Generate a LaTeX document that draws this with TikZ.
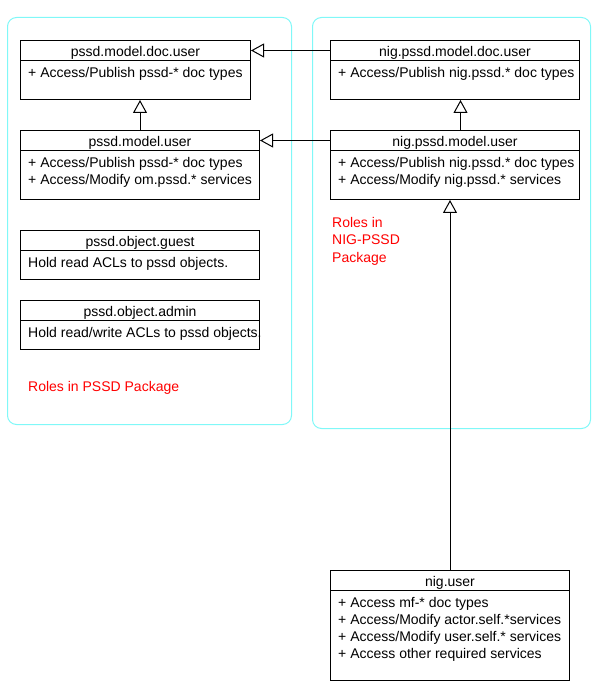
\documentclass[tikz,border=0pt]{standalone}
\usepackage{fontspec}
\setmainfont{Liberation Sans}
\usepackage{xcolor}
\usetikzlibrary{positioning, arrows.meta, calc}

\definecolor{pkgcyan}{HTML}{80F8F8}
\definecolor{pkgred}{HTML}{FF0000}

\tikzset{
  classframe/.style={rectangle, draw=black, line width=1pt, anchor=north west, inner sep=0pt},
  classname/.style={rectangle, draw=black, line width=1pt, anchor=north west, inner sep=0pt,
                    minimum height=20, text height=12, text depth=0,
                    font=\fontsize{14}{17}\selectfont},
  classbody/.style={anchor=north west, inner sep=0pt, align=left,
                    font=\fontsize{14}{17}\selectfont},
  pkgframe/.style={rectangle, draw=pkgcyan, line width=1pt, rounded corners=9pt,
                   anchor=north west, inner sep=0pt},
  pkglabel/.style={anchor=north west, inner sep=0pt, align=left, text=pkgred,
                   font=\fontsize{14}{17.5}\selectfont},
  inherit/.style={-{Triangle[open, length=13pt, width=14pt]}, line width=1pt, fill=white}
}

\begin{document}
\begin{tikzpicture}[x=1pt, y=-1pt]
\useasboundingbox (0,0) rectangle (600,700);

% Packages
\node[pkgframe, minimum width=284, minimum height=407] (pssdpkg) at (7,17) {};
\node[pkgframe, minimum width=278, minimum height=411] (nigpkg) at (312,17) {};

% Package labels
\node[pkglabel] (pssdlabel) at (28,381) {Roles in PSSD Package};
\node[pkglabel] (niglabel) at (332,217) {Roles in\\NIG-PSSD\\Package};

% pssd.model.doc.user
\node[classframe, minimum width=230, minimum height=59] (docuser) at (20,40) {};
\node[classname, minimum width=230] (docuser-name) at (20,40) {pssd.model.doc.user};
\node[classbody] (docuser-body) at (28,67) {+ Access/Publish pssd-* doc types};

% pssd.model.user
\node[classframe, minimum width=239, minimum height=69] (user) at (20,130) {};
\node[classname, minimum width=239] (user-name) at (20,130) {pssd.model.user};
\node[classbody] (user-body) at (28,157) {+ Access/Publish pssd-* doc types\\+ Access/Modify om.pssd.* services};

% pssd.object.guest
\node[classframe, minimum width=239, minimum height=49] (guest) at (20,230) {};
\node[classname, minimum width=239] (guest-name) at (20,230) {pssd.object.guest};
\node[classbody] (guest-body) at (28,257) {Hold read ACLs to pssd objects.};

% pssd.object.admin
\node[classframe, minimum width=239, minimum height=49] (admin) at (20,300) {};
\node[classname, minimum width=239] (admin-name) at (20,300) {pssd.object.admin};
\node[classbody] (admin-body) at (28,327) {Hold read/write ACLs to pssd objects.};

% nig.pssd.model.doc.user
\node[classframe, minimum width=249, minimum height=59] (nigdocuser) at (330,40) {};
\node[classname, minimum width=249] (nigdocuser-name) at (330,40) {nig.pssd.model.doc.user};
\node[classbody] (nigdocuser-body) at (338,67) {+ Access/Publish nig.pssd.* doc types};

% nig.pssd.model.user
\node[classframe, minimum width=249, minimum height=69] (niguser) at (330,130) {};
\node[classname, minimum width=249] (niguser-name) at (330,130) {nig.pssd.model.user};
\node[classbody] (niguser-body) at (338,157) {+ Access/Publish nig.pssd.* doc types\\+ Access/Modify nig.pssd.* services};

% nig.user
\node[classframe, minimum width=239, minimum height=110] (nigbase) at (330,570) {};
\node[classname, minimum width=239] (nigbase-name) at (330,570) {nig.user};
\node[classbody] (nigbase-body) at (338,597) {+ Access mf-* doc types\\+ Access/Modify actor.self.*services\\+ Access/Modify user.self.* services\\+ Access other required services};

% Generalisations
\draw[inherit] (nigdocuser-name.west) -- (docuser-name.east);
\draw[inherit] (niguser-name.west) -- (user-name.east);
\draw[inherit] (user.north) -- (user.north |- docuser.south);
\draw[inherit] ([xshift=5.5]niguser.north) -- ([xshift=5.5]niguser.north |- nigdocuser.south);
\draw[inherit] (nigbase.north) -- (nigbase.north |- niguser.south);

\end{tikzpicture}
\end{document}
